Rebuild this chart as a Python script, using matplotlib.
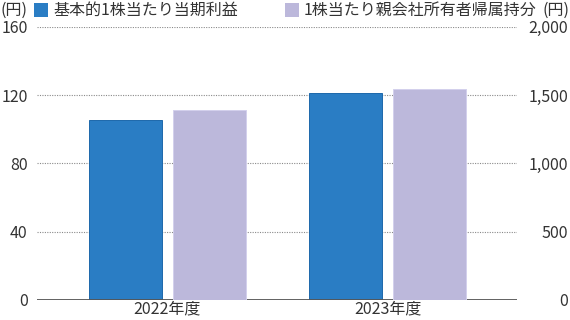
import matplotlib
matplotlib.use("Agg")
import matplotlib.pyplot as plt
from matplotlib.patches import Rectangle
import numpy as np

plt.rcParams['font.family'] = ['Noto Sans CJK JP', 'DejaVu Sans']

categories = ["2022年度", "2023年度"]
eps = [105.4, 121.2]        # 基本的1株当たり当期利益 (left axis)
bps = [1388, 1542]          # 1株当たり親会社所有者帰属持分 (right axis)
left_ticks = [0, 40, 80, 120, 160]
right_ticks = [0, 500, 1000, 1500, 2000]
right_labels = ["0", "500", "1,000", "1,500", "2,000"]
legend_labels = ["基本的1株当たり当期利益", "1株当たり親会社所有者帰属持分"]

blue = '#2a7dc4'
purple = '#bcb8db'
txt = '#333333'
W, H = 570, 320
fs = 11.5

fig = plt.figure(figsize=(W / 100, H / 100), dpi=100)
ax = fig.add_axes([36.7 / W, 20 / H, 480.6 / W, 273.3 / H])
ax2 = ax.twinx()

x = np.arange(len(categories))
w = 0.332
b1 = ax.bar(x - 0.19, eps, w, color=blue, edgecolor='#1d68ab', linewidth=0.7, zorder=3)
b2 = ax2.bar(x + 0.19, bps, w, color=purple, edgecolor='#d3d0ec', linewidth=0.7, zorder=3)

ax.set_xlim(-0.5935, 1.5896)
ax.set_ylim(0, 160)
ax2.set_ylim(0, 2000)
ax.set_yticks(left_ticks)
ax2.set_yticks(right_ticks)
ax2.set_yticklabels(right_labels)
ax.set_xticks(x)
ax.set_xticklabels(categories)

for t in left_ticks[1:]:
    ax.axhline(t, color='#8a8a8a', linestyle=(0, (1, 1.2)), linewidth=0.8, zorder=1)
ax.axhline(0, color='#555555', linewidth=1.3, zorder=4)

for a in (ax, ax2):
    for s in a.spines.values():
        s.set_visible(False)
    a.tick_params(length=0, labelsize=fs, colors=txt)
ax.tick_params(axis='y', pad=6.5)
ax2.tick_params(axis='y', pad=36.5)
ax.tick_params(axis='x', pad=0.5)
for lab in ax2.get_yticklabels():
    lab.set_horizontalalignment('right')

# header: units and legend
ty = 1 - 10.5 / H
fig.text(0.0, ty, "(円)", fontsize=fs, color=txt, va='center', ha='left')
fig.text(1.0, ty, "(円)", fontsize=fs, color=txt, va='center', ha='right')
for (x0, tx), col, lab in zip([(34, 53), (285, 304)], [blue, purple], legend_labels):
    fig.patches.append(Rectangle((x0 / W, 1 - 17 / H), 14 / W, 14 / H,
                                 transform=fig.transFigure, facecolor=col,
                                 edgecolor='none'))
    fig.text(tx / W, ty, lab, fontsize=fs, color=txt, va='center', ha='left')

fig.savefig("out.png", dpi=100)
